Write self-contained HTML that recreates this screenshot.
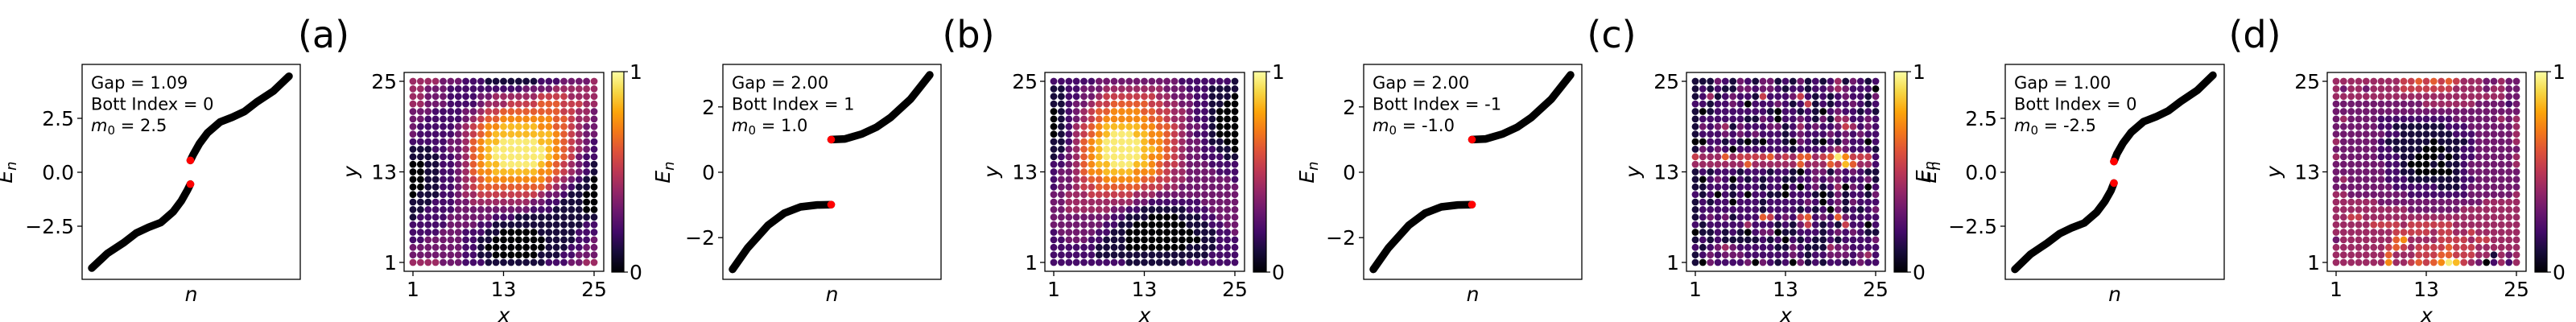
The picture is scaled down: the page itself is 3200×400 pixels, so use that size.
<!DOCTYPE html>
<html><head><meta charset="utf-8"><style>
html,body{margin:0;padding:0;background:#fff;}
svg{display:block;font-family:"DejaVu Sans","Liberation Sans",sans-serif;}
</style></head><body>
<svg id="fig" xmlns="http://www.w3.org/2000/svg" width="3200" height="400" viewBox="0 0 3200 400"></svg>
<script>
// ---------- data ----------
const panelTitles = ["(a)","(b)","(c)","(d)"];
const gapLabels = ["1.09","2.00","2.00","1.00"];
const bottLabels = ["0","1","-1","0"];
const m0Labels = ["2.5","1.0","-1.0","-2.5"];
const eTicksAD = [-2.5, 0, 2.5];
const eTickLabelsAD = ["\u22122.5","0.0","2.5"];
const eTicksBC = [-2, 0, 2];
const eTickLabelsBC = ["\u22122","0","2"];
const gridTicks = [1, 13, 25];
const cbarTicks = [0, 1];

// spectra: n (fraction of index) and E
const lowNAD = [0, 0.079, 0.163, 0.225, 0.288, 0.35, 0.413, 0.454, 0.485, 0.5];
const lowEA  = [-4.44, -3.76, -3.26, -2.82, -2.55, -2.33, -1.83, -1.33, -0.83, -0.55];
const upNAD  = [0.5, 0.515, 0.546, 0.587, 0.65, 0.712, 0.775, 0.837, 0.921, 1.0];
const upEA   = [0.55, 0.83, 1.33, 1.83, 2.33, 2.55, 2.82, 3.26, 3.76, 4.45];
const lowED  = [-4.5, -3.8, -3.28, -2.85, -2.57, -2.35, -1.85, -1.35, -0.85, -0.5];
const upED   = [0.5, 0.85, 1.35, 1.85, 2.35, 2.57, 2.85, 3.28, 3.8, 4.5];
const lowNBC = [0, 0.076, 0.18, 0.262, 0.345, 0.428, 0.5];
const lowEB  = [-2.97, -2.32, -1.62, -1.25, -1.06, -1.0, -0.99];
const upNBC  = [0.5, 0.57, 0.655, 0.73, 0.8, 0.903, 1.0];
const upEB   = [1.0, 1.02, 1.17, 1.38, 1.67, 2.24, 2.98];

// heat maps: rows y=25 (top) .. y=1 (bottom), columns x=1..25, digits 0..9
const heatA = [
"4444333222111111122233334",
"4433322222222223333444444",
"4433322223344444455554444",
"4433322223444555566655544",
"3332222334556666666655443",
"3322222345667777777665443",
"3222223456778888877665433",
"3222223456788888888765433",
"2222233467889999988765432",
"1112233467899999998765432",
"1111223467899999998765322",
"0011223467889999987654321",
"0011223467788888877654321",
"0011223456777777776543210",
"0011223456666666665432110",
"0111223445555555543321100",
"1112223344444444332211100",
"1122223333333333222111100",
"1222233333322211111111111",
"2222233332211111111111122",
"2222333222110000011111222",
"2233333221100000001111223",
"3333333221000000001112233",
"3333333221100000011122333",
"4444333222111111112223344"];
const heatB = [
"2222223333333333322222221",
"1122333444444443332221111",
"1122334555555544333221110",
"1123345566666554433221100",
"0123456677776655443221000",
"0123456777777665443221000",
"0124567888887766543321000",
"0124567899988776543221000",
"1124678999998776543321100",
"1134678999998876543322110",
"1234678999998776543322211",
"2234678899988765543332222",
"2334677888877765443333222",
"2334566777776655443333332",
"2334556666665554433333333",
"3344455555544433333333333",
"3344444444433222222233333",
"3344444433221111112223333",
"3333333322111000011122333",
"3333333221100000001112233",
"2333332211000000000111223",
"2233322111000000000011222",
"2222221111000000001111222",
"2222221111111111111112222",
"2222222222111111112222222"];
const heatC = [
"1113213213312131212413212",
"1212113323321221223432220",
"1241232215222352121232213",
"2212232022232125121223212",
"1012222222102212102322121",
"1222222113202232131442232",
"1323413222331242322354232",
"1222323232221232223232322",
"0022121010221032102132202",
"1323202222222122223432221",
"5444645555645466456975552",
"4444444644444464446586442",
"1212221222122102331323211",
"1023202121221122323322231",
"1122212221220202312403202",
"2120212022110222101312213",
"1212202221222223202313222",
"1222222221222212120312123",
"1232312226523256232632222",
"2122222422212135212152202",
"0112121023301122212323211",
"1212111112120212112122223",
"2123432222211321114332222",
"1232333222222321223332342",
"1032222303212031212212322"];
const heatD = [
"4444444445565656544433433",
"4344344445555555444434433",
"4444444444444444444444433",
"3333333333334444444333323",
"3333333333333333333333333",
"3433332222222222333333434",
"3333332211111112223333334",
"3333333221111111222333334",
"4333332111111011112333334",
"3333332211110001122333333",
"4333332221100010122333334",
"3333333221000101123333334",
"3333333221100000123333333",
"3433333222111111122333333",
"3333333322222211123333333",
"4433333333222222223333334",
"4444443333333333333344444",
"4444444444333333344444444",
"4455444444444444444444444",
"4444455554555555444444444",
"4444444455555455445444444",
"3444444467444455554554444",
"4444444565455556555444444",
"4444444644455566555441434",
"4444444744565679854302424"];

// ---------- helpers ----------
const NS = "http://www.w3.org/2000/svg";
const svg = document.getElementById("fig");
function mk(tag, attrs, parent) {
  const e = document.createElementNS(NS, tag);
  for (const k in attrs) e.setAttribute(k, attrs[k]);
  (parent || svg).appendChild(e);
  return e;
}
const infernoStops = ["#000004","#160b39","#420a68","#6a176e","#932667","#bc3754","#dd513a","#f37819","#fca50a","#f6d746","#fcffa4"];
function hex2rgb(h){return [parseInt(h.substr(1,2),16),parseInt(h.substr(3,2),16),parseInt(h.substr(5,2),16)];}
function inferno(v) {
  v = Math.max(0, Math.min(1, v)) * 10;
  const i = Math.min(9, Math.floor(v)), f = v - i;
  const a = hex2rgb(infernoStops[i]), b = hex2rgb(infernoStops[i+1]);
  return "rgb(" + a.map((c,k)=>Math.round(c + (b[k]-c)*f)).join(",") + ")";
}
const defs = mk("defs", {});
const grad = mk("linearGradient", {id:"infgrad", x1:"0", y1:"1", x2:"0", y2:"0"}, defs);
infernoStops.forEach((c,i)=>mk("stop",{offset:(i/10).toString(),"stop-color":c},grad));

const panels = [
  {box:[102,80,373,347], heat:[502,90,750,337], cbar:[760,89,775,338], title:402, ylab:6,
   ticks:eTicksAD, tl:eTickLabelsAD, scale:26.8, low:[lowNAD,lowEA], up:[upNAD,upEA], heat_:heatA, cbl:false},
  {box:[898,80,1169,347], heat:[1298,90,1546,337], cbar:[1557,89,1573,338], title:1203, ylab:823,
   ticks:eTicksBC, tl:eTickLabelsBC, scale:40.6, low:[lowNBC,lowEB], up:[upNBC,upEB], heat_:heatB, cbl:false},
  {box:[1694,80,1965,347], heat:[2095,90,2342,337], cbar:[2353,89,2369,338], title:2002, ylab:1623,
   ticks:eTicksBC, tl:eTickLabelsBC, scale:40.6, low:[lowNBC,lowEB], up:[upNBC,upEB], heat_:heatC, cbl:true},
  {box:[2491,80,2763,347], heat:[2891,90,3138,337], cbar:[3149,89,3164,338], title:2801, ylab:2396,
   ticks:eTicksAD, tl:eTickLabelsAD, scale:26.8, low:[lowNAD,lowED], up:[upNAD,upED], heat_:heatD, cbl:false}
];
const names = ["a","b","c","d"];

panels.forEach((p, pi) => {
  const g = mk("g", {});
  
  
  const t = mk("text", {x:p.title, y:59, "font-size":46, "text-anchor":"middle"}, g);
  t.textContent = panelTitles[pi];
  
  

  const [L,T,R,B] = p.box;
  const y0 = (T + B) / 2 + 0.5;
  const xN = n => L + 12 + n * (R - L - 26);
  const yE = e => y0 - e * p.scale;
  const sg = mk("g", {}, g);
  
  
  [p.low, p.up].forEach((br, bi) => {
    const pts = br[0].map((n,i)=>xN(n).toFixed(1)+","+yE(br[1][i]).toFixed(1)).join(" ");
    const pl = mk("polyline", {points:pts, fill:"none", stroke:"#000", "stroke-width":9.5, "stroke-linecap":"round", "stroke-linejoin":"round"}, sg);
    
    
  });
  const eLow = p.low[1][p.low[1].length-1], eUp = p.up[1][0];
  [[p.low[0][p.low[0].length-1], eLow],[p.up[0][0], eUp]].forEach((pt, k) => {
    const c = mk("circle", {cx:xN(pt[0]), cy:yE(pt[1]), r:4.8, fill:"#ff0000"}, sg);
    
    
  });
  const fr = mk("rect", {x:L, y:T, width:R-L, height:B-T, fill:"none", stroke:"#000", "stroke-width":1.3}, sg);
  
  
  p.ticks.forEach((v,i) => {
    const y = yE(v);
    mk("line", {x1:L-6, x2:L, y1:y, y2:y, stroke:"#000", "stroke-width":1.3}, sg);
    const tx = mk("text", {x:L-10, y:y+9, "font-size":25, "text-anchor":"end"}, sg);
    tx.textContent = p.tl[i];
    
    
  });
  const yl = mk("text", {x:0, y:0, "font-size":25, "font-style":"italic", "text-anchor":"middle", transform:"translate("+(p.ylab+9)+","+y0+") rotate(-90)"}, sg);
  yl.innerHTML = 'E<tspan font-size="18" dy="5">n</tspan>';
  
  
  const xl = mk("text", {x:(L+R)/2, y:374, "font-size":25, "font-style":"italic", "text-anchor":"middle"}, sg);
  xl.textContent = "n";
  
  
  const info = [["Gap = " + gapLabels[pi]], ["Bott Index = " + bottLabels[pi]]];
  info.forEach((s, k) => {
    const it = mk("text", {x:L+11, y:110 + k*26.5, "font-size":21}, sg);
    it.textContent = s[0];
    
    
  });
  const mt = mk("text", {x:L+11, y:163, "font-size":21}, sg);
  mt.innerHTML = '<tspan font-style="italic">m</tspan><tspan font-size="15" dy="4">0</tspan><tspan dy="-4"> = ' + m0Labels[pi] + '</tspan>';
  
  

  const [hL,hT,hR,hB] = p.heat;
  const gx = v => hL + 11 + (v - 1) * (hR - hL - 23) / 24;
  const gy = v => hB - 11 - (v - 1) * (hB - hT - 22) / 24;
  const hg = mk("g", {}, g);
  
  
  p.heat_.forEach((row, ri) => {
    const yv = 25 - ri;
    for (let xi = 0; xi < 25; xi++) {
      const d = parseInt(row[Math.min(xi, row.length-1)], 10);
      const c = mk("circle", {cx:gx(xi+1).toFixed(1), cy:gy(yv).toFixed(1), r:4.4, fill:inferno(d/9.5)}, hg);
      
      
    }
  });
  const hf = mk("rect", {x:hL, y:hT, width:hR-hL, height:hB-hT, fill:"none", stroke:"#000", "stroke-width":1.3}, hg);
  
  
  gridTicks.forEach(v => {
    mk("line", {x1:gx(v), x2:gx(v), y1:hB, y2:hB+6, stroke:"#000", "stroke-width":1.3}, hg);
    const tx = mk("text", {x:gx(v), y:hB+31, "font-size":25, "text-anchor":"middle"}, hg);
    tx.textContent = v;
    
    
    mk("line", {x1:hL-6, x2:hL, y1:gy(v), y2:gy(v), stroke:"#000", "stroke-width":1.3}, hg);
    const ty = mk("text", {x:hL-9, y:gy(v)+9, "font-size":25, "text-anchor":"end"}, hg);
    ty.textContent = v;
    
    
  });
  const hx = mk("text", {x:(hL+hR)/2, y:400, "font-size":25, "font-style":"italic", "text-anchor":"middle"}, hg);
  hx.textContent = "x";
  
  
  const hy = mk("text", {x:0, y:0, "font-size":25, "font-style":"italic", "text-anchor":"middle", transform:"translate("+(hL-58)+","+((hT+hB)/2)+") rotate(-90)"}, hg);
  hy.textContent = "y";
  
  

  const [cL,cT,cR,cB] = p.cbar;
  const cb = mk("rect", {x:cL, y:cT, width:cR-cL, height:cB-cT, fill:"url(#infgrad)", stroke:"#000", "stroke-width":1.2}, g);
  
  
  cbarTicks.forEach(v => {
    const y = cB - v * (cB - cT);
    mk("line", {x1:cR, x2:cR+5, y1:y, y2:y, stroke:"#000", "stroke-width":1.2}, g);
    const ct = mk("text", {x:cR+7, y:y+9, "font-size":25}, g);
    ct.textContent = v;
    
    
  });
  if (p.cbl) {
    const cl = mk("text", {x:0, y:0, "font-size":25, "font-style":"italic", "text-anchor":"middle", transform:"translate("+(cR+29)+","+((cT+cB)/2)+") rotate(-90)"}, g);
    cl.innerHTML = 'E<tspan font-size="18" dy="5">n</tspan>';
    
    
  }
});
</script>
</body></html>
